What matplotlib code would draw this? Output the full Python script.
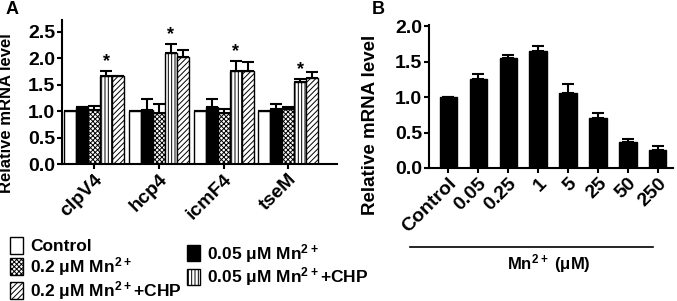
import numpy as np
import matplotlib
matplotlib.use('Agg')
from matplotlib import pyplot as plt
from matplotlib.patches import Patch
from matplotlib.lines import Line2D

matplotlib.rcParams['font.family'] = 'Liberation Sans'
matplotlib.rcParams['font.weight'] = 'bold'
matplotlib.rcParams['axes.labelweight'] = 'bold'
matplotlib.rcParams['mathtext.fontset'] = 'custom'
matplotlib.rcParams['mathtext.rm'] = 'Liberation Sans:bold'
matplotlib.rcParams['mathtext.bf'] = 'Liberation Sans:bold'
matplotlib.rcParams['mathtext.default'] = 'bf'
matplotlib.rcParams['hatch.linewidth'] = 0.7
matplotlib.rcParams['axes.linewidth'] = 1.5

# panel A data
genes = ['clpV4', 'hcp4', 'icmF4', 'tseM']
treatments = ['Control', '0.05 μM Mn$^{2+}$', '0.2 μM Mn$^{2+}$',
              '0.05 μM Mn$^{2+}$+CHP', '0.2 μM Mn$^{2+}$+CHP']
means_a = np.array([
    [1.00, 1.07, 1.02, 1.66, 1.66],
    [1.00, 1.02, 0.97, 2.09, 2.02],
    [1.00, 1.08, 0.97, 1.76, 1.75],
    [1.00, 1.03, 1.04, 1.54, 1.63],
])
errs_a = np.array([
    [0.00, 0.01, 0.07, 0.09, 0.01],
    [0.00, 0.20, 0.16, 0.18, 0.14],
    [0.00, 0.14, 0.06, 0.19, 0.17],
    [0.00, 0.10, 0.03, 0.07, 0.10],
])
signif_a = [3]  # index of treatment marked with *

# panel B data
doses = ['Control', '0.05', '0.25', '1', '5', '25', '50', '250']
means_b = [1.00, 1.26, 1.55, 1.65, 1.06, 0.71, 0.37, 0.26]
errs_b = [0.00, 0.07, 0.04, 0.07, 0.12, 0.06, 0.04, 0.05]

faces = ['white', 'black', 'white', 'white', 'white']
hatches = [None, None, 'xxxxxxx', '|||||', '//////']

fig = plt.figure(figsize=(6.77, 3.01), dpi=100)

# ---------------- panel A ----------------
axA = fig.add_axes([0.0916, 0.455, 0.406, 0.479])
group_step = 5.4
for j in range(len(treatments)):
    xs = np.arange(len(genes)) * group_step + j
    axA.bar(xs, means_a[:, j], width=1.0, color=faces[j], edgecolor='black',
            hatch=hatches[j], linewidth=1.0, label=treatments[j], zorder=2)
    axA.errorbar(xs, means_a[:, j], yerr=[np.zeros(len(genes)), errs_a[:, j]],
                 fmt='none', ecolor='black', elinewidth=1.5, capsize=4,
                 capthick=1.5, zorder=1)
    if j in signif_a:
        for x, m, e in zip(xs, means_a[:, j], errs_a[:, j]):
            axA.text(x, m + e + 0.02, '*', ha='center', va='bottom', fontsize=13)

axA.set_xlim(-0.67, 22.25)
axA.set_ylim(0, 2.72)
axA.set_yticks([0, 0.5, 1.0, 1.5, 2.0, 2.5])
axA.set_yticklabels(['0.0', '0.5', '1.0', '1.5', '2.0', '2.5'])
axA.set_xticks(np.arange(len(genes)) * group_step + 2)
axA.set_xticklabels(genes, rotation=45, ha='right', rotation_mode='anchor')
axA.set_ylabel('Relative mRNA level', fontsize=12)
axA.yaxis.set_label_coords(-0.175, 0.354)
for s in ['top', 'right']:
    axA.spines[s].set_visible(False)
axA.tick_params(axis='both', labelsize=14, width=1.5, length=3.5, pad=1.5)

handles = [Patch(facecolor=faces[j], edgecolor='black', hatch=hatches[j],
                 linewidth=1.0) for j in range(len(treatments))]
leg_kw = dict(frameon=False, fontsize=12.5, handlelength=0.75, handleheight=1.1,
              handletextpad=0.4, labelspacing=0.05, borderaxespad=0)
fig.legend([handles[0], handles[2], handles[4]],
           [treatments[0], treatments[2], treatments[4]],
           loc='upper left', bbox_to_anchor=(0.005, 0.235), **leg_kw)
fig.legend([handles[1], handles[3]], [treatments[1], treatments[3]],
           loc='upper left', bbox_to_anchor=(0.266, 0.22), **leg_kw)

fig.text(0.008, 0.998, 'A', fontsize=13, va='top', ha='left')

# ---------------- panel B ----------------
axB = fig.add_axes([0.634, 0.442, 0.360, 0.475])
xb = np.arange(len(doses))
axB.bar(xb, means_b, width=0.57, color='black', edgecolor='black', zorder=2)
axB.errorbar(xb, means_b, yerr=[np.zeros(len(doses)), errs_b], fmt='none',
             ecolor='black', elinewidth=1.5, capsize=4, capthick=1.5, zorder=1)
axB.set_xlim(-0.63, 7.5)
axB.set_ylim(0, 2.02)
axB.set_yticks([0, 0.5, 1.0, 1.5, 2.0])
axB.set_yticklabels(['0.0', '0.5', '1.0', '1.5', '2.0'])
axB.set_xticks(xb)
axB.set_xticklabels(doses, rotation=45, ha='right', rotation_mode='anchor')
axB.set_ylabel('Relative mRNA level', fontsize=13.5)
axB.yaxis.set_label_coords(-0.208, 0.30)
for s in ['top', 'right']:
    axB.spines[s].set_visible(False)
axB.tick_params(axis='both', labelsize=14, width=1.5, length=3.5, pad=1.5)

fig.add_artist(Line2D([0.606, 0.965], [0.180, 0.180], color='black', lw=1.2))
fig.text(0.81, 0.125, 'Mn$^{2+}$ (μM)', fontsize=12, ha='center', va='center')
fig.text(0.549, 0.998, 'B', fontsize=13, va='top', ha='left')

fig.savefig('out.png', dpi=100)
